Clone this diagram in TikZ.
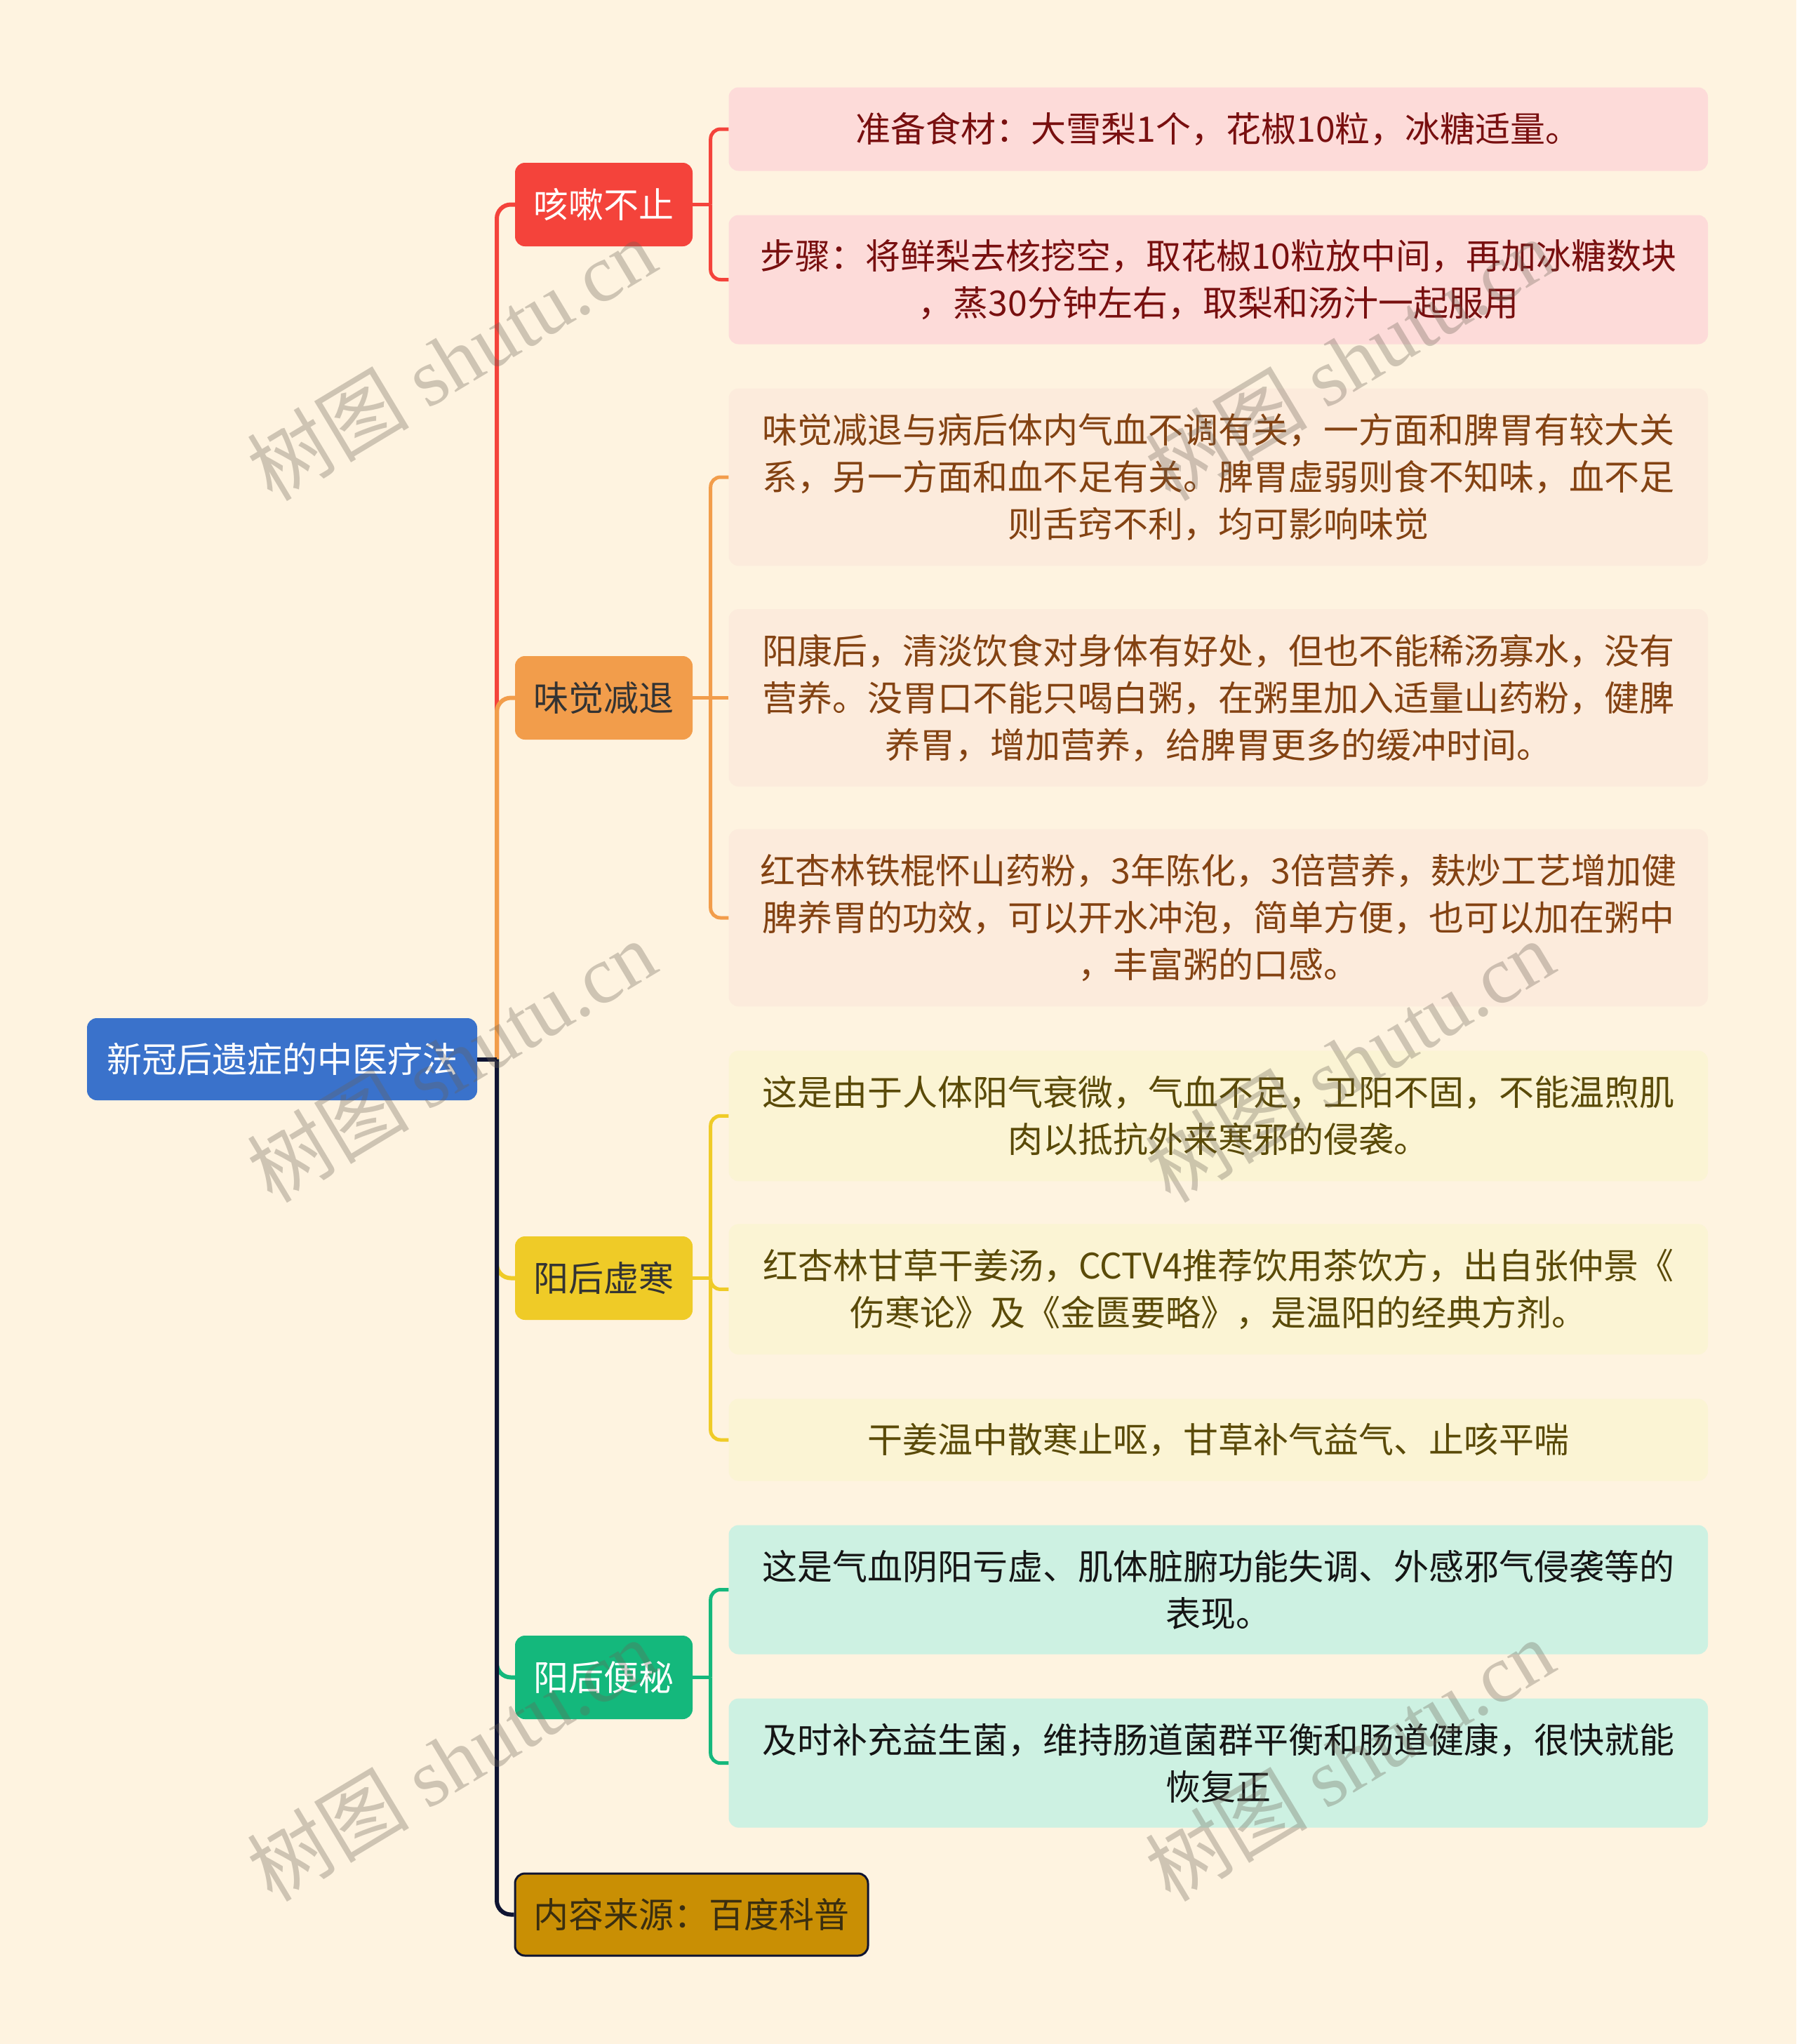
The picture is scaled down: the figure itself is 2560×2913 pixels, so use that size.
\documentclass[tikz,border=0pt]{standalone}
\usepackage{fontspec}
\setmainfont{Noto Sans CJK SC}
\newfontfamily\wmlat{Liberation Serif}
\usetikzlibrary{calc}
\definecolor{bgc}{HTML}{FEF3E0}
\definecolor{rootblue}{HTML}{3A72CB}
\definecolor{cred}{HTML}{F4433B}
\definecolor{corange}{HTML}{F29D4B}
\definecolor{cyellow}{HTML}{EFCB27}
\definecolor{cgreen}{HTML}{14B87C}
\definecolor{cgold}{HTML}{C98F04}
\definecolor{cdark}{HTML}{0F1432}
\definecolor{lred}{HTML}{FDDBD9}
\definecolor{lorange}{HTML}{FCEBDC}
\definecolor{lyellow}{HTML}{FBF4D4}
\definecolor{lgreen}{HTML}{CDF1E2}
\definecolor{tred}{HTML}{780F0F}
\definecolor{torange}{HTML}{834212}
\definecolor{tyellow}{HTML}{5A4A08}
\definecolor{tgreen}{HTML}{151515}
\definecolor{tdark}{HTML}{333333}
\definecolor{tgold}{HTML}{3A2E10}
\definecolor{wmc}{HTML}{6B6255}
\begin{document}
\begin{tikzpicture}[x=1pt,y=-1pt,
  base/.style={rounded corners=14pt, inner sep=0pt, align=center, font=\fontsize{50}{67}\selectfont},
  rootbox/.style={base, fill=rootblue, text=white, minimum width=556pt, minimum height=117pt},
  brbox/.style={base, minimum width=253pt, minimum height=119pt},
  leaf/.style={base, minimum width=1395.5pt},
  trunk/.style={line width=6pt, rounded corners=20pt},
  brk/.style={line width=5pt, rounded corners=14pt},
  wm/.style={text=wmc, opacity=0.32, font=\fontsize{116}{116}\selectfont, rotate=31, inner sep=0pt}]
\fill[bgc] (0,0) rectangle (2560,2913);
\useasboundingbox (0,0) rectangle (2560,2913);

% nodes
\node[rootbox] (root) at (402,1509.5) {新冠后遗症的中医疗法};
\node[brbox, fill=cred, text=white] (b1) at (860.5,291.5) {咳嗽不止};
\node[brbox, fill=corange, text=tdark] (b2) at (860.5,994.5) {味觉减退};
\node[brbox, fill=cyellow, text=tdark] (b3) at (860.5,1821.5) {阳后虚寒};
\node[brbox, fill=cgreen, text=white] (b4) at (860.5,2390.5) {阳后便秘};
\node[brbox, fill=cgold, draw=cdark, line width=3pt, text=tgold, minimum width=503pt, minimum height=117pt] (b5) at (985.5,2728.5) {内容来源：百度科普};

\node[leaf, fill=lred, text=tred, minimum height=119pt] (l1a) at (1736.25,184) {准备食材：大雪梨1个，花椒10粒，冰糖适量。};
\node[leaf, fill=lred, text=tred, minimum height=184pt] (l1b) at (1736.25,398.5) {步骤：将鲜梨去核挖空，取花椒10粒放中间，再加冰糖数块\\，蒸30分钟左右，取梨和汤汁一起服用};

\node[leaf, fill=lorange, text=torange, minimum height=252.7pt] (l2a) at (1736.25,680) {味觉减退与病后体内气血不调有关，一方面和脾胃有较大关\\系，另一方面和血不足有关。脾胃虚弱则食不知味，血不足\\则舌窍不利，均可影响味觉};
\node[leaf, fill=lorange, text=torange, minimum height=252.7pt] (l2b) at (1736.25,994.5) {阳康后，清淡饮食对身体有好处，但也不能稀汤寡水，没有\\营养。没胃口不能只喝白粥，在粥里加入适量山药粉，健脾\\养胃，增加营养，给脾胃更多的缓冲时间。};
\node[leaf, fill=lorange, text=torange, minimum height=252.6pt] (l2c) at (1736.25,1308) {红杏林铁棍怀山药粉，3年陈化，3倍营养，麸炒工艺增加健\\脾养胃的功效，可以开水冲泡，简单方便，也可以加在粥中\\，丰富粥的口感。};

\node[leaf, fill=lyellow, text=tyellow, minimum height=186pt] (l3a) at (1736.25,1590.3) {这是由于人体阳气衰微，气血不足，卫阳不固，不能温煦肌\\肉以抵抗外来寒邪的侵袭。};
\node[leaf, fill=lyellow, text=tyellow, minimum height=186pt] (l3b) at (1736.25,1837.4) {红杏林甘草干姜汤，CCTV4推荐饮用茶饮方，出自张仲景《\\伤寒论》及《金匮要略》，是温阳的经典方剂。};
\node[leaf, fill=lyellow, text=tyellow, minimum height=117pt] (l3c) at (1736.25,2052) {干姜温中散寒止呕，甘草补气益气、止咳平喘};

\node[leaf, fill=lgreen, text=tgreen, minimum height=184pt] (l4a) at (1736.25,2265.5) {这是气血阴阳亏虚、肌体脏腑功能失调、外感邪气侵袭等的\\表现。};
\node[leaf, fill=lgreen, text=tgreen, minimum height=184pt] (l4b) at (1736.25,2512.6) {及时补充益生菌，维持肠道菌群平衡和肠道健康，很快就能\\恢复正};

% trunk connectors
\coordinate (j) at (708,1509.5);
\draw[trunk, cred] (j) |- (b1.west);
\draw[trunk, corange] (j) |- (b2.west);
\draw[trunk, cyellow] (j) |- (b3.west);
\draw[trunk, cgreen] (j) |- (b4.west);
\draw[trunk, cdark] (j) |- (b5.west);
\draw[line width=6pt, cdark] (root.east) -- (j);

% leaf brackets
\coordinate (k1) at ($(b1.east)+(25.5,0)$);
\draw[brk, cred] (b1.east) -- (k1);
\draw[brk, cred] (k1) |- (l1a.west);
\draw[brk, cred] (k1) |- (l1b.west);

\coordinate (k2) at ($(b2.east)+(25.5,0)$);
\draw[brk, corange] (b2.east) -- (k2) -- (l2b.west);
\draw[brk, corange] (k2) |- (l2a.west);
\draw[brk, corange] (k2) |- (l2c.west);

\coordinate (k3) at ($(b3.east)+(25.5,0)$);
\draw[brk, cyellow] (b3.east) -- (k3);
\draw[brk, cyellow] (k3) |- (l3a.west);
\draw[brk, cyellow] (k3) |- (l3b.west);
\draw[brk, cyellow] (k3) |- (l3c.west);

\coordinate (k4) at ($(b4.east)+(25.5,0)$);
\draw[brk, cgreen] (b4.east) -- (k4);
\draw[brk, cgreen] (k4) |- (l4a.west);
\draw[brk, cgreen] (k4) |- (l4b.west);

% watermarks
\node[wm] (w1) at (643,512) {树图 {\wmlat shutu.cn}};
\node[wm] (w2) at (643,1512) {树图 {\wmlat shutu.cn}};
\node[wm] (w3) at (1923,512) {树图 {\wmlat shutu.cn}};
\node[wm] (w4) at (1923,1512) {树图 {\wmlat shutu.cn}};
\node[wm] (w5) at (643,2508) {树图 {\wmlat shutu.cn}};
\node[wm] (w6) at (1923,2508) {树图 {\wmlat shutu.cn}};
\end{tikzpicture}
\end{document}
